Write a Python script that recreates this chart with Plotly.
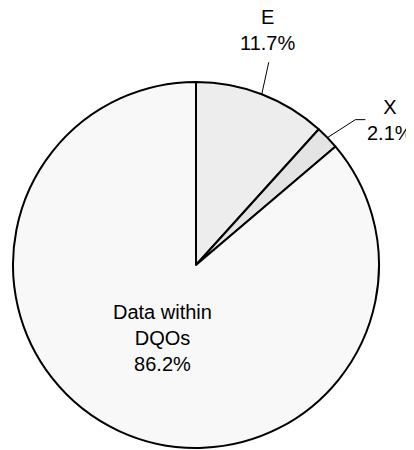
import math
import plotly.graph_objects as go

# Data
labels = ["E", "X", "Data within DQOs"]
label_text = ["E", "X", "Data within<br>DQOs"]
values = [11.7, 2.1, 86.2]
colors = ["#ededed", "#e4e4e4", "#f8f8f8"]

OFF = 8  # page body margin
W, H = 414 - OFF, 450 - OFF
CX, CY, R = 196, 265, 183  # pie geometry in window pixels

def px(x):
    return (x - OFF) / W

def py(y):
    return 1 - (y - OFF) / H

fig = go.Figure(go.Pie(
    labels=labels,
    values=values,
    sort=False,
    direction="clockwise",
    rotation=0,
    marker=dict(colors=colors, line=dict(color="black", width=2)),
    textinfo="none",
    hoverinfo="label+percent",
    showlegend=False,
    domain=dict(x=[px(CX - R), px(CX + R)], y=[max(0, py(CY + R)), py(CY - R)]),
))

total = sum(values)
cum = 0
mids = []
for v in values:
    mids.append((cum + v / 2) / total * 2 * math.pi)
    cum += v

def arc_point(theta, r=R):
    return CX + r * math.sin(theta), CY - r * math.cos(theta)

font = dict(family="Liberation Sans, Arial", size=20, color="black")
annotations = []
shapes = []

# E label (above, with leader line)
ex, ey = arc_point(mids[0])
e_top = (ex + 7, ey - 32)
shapes.append(dict(type="line", xref="paper", yref="paper",
                   x0=px(ex), y0=py(ey), x1=px(e_top[0]), y1=py(e_top[1]),
                   line=dict(color="black", width=1)))
annotations.append(dict(x=px(e_top[0] - 1), y=py(e_top[1] - 6), xref="paper", yref="paper",
                        text=f"{label_text[0]}<br>{values[0]:.1f}%", showarrow=False,
                        xanchor="center", yanchor="bottom", font=font, align="center"))

# X label (to the right, with bent leader line)
xx, xy = arc_point(mids[1])
bend = (xx + 28, xy - 18)
end = (bend[0] + 10, bend[1])
shapes.append(dict(type="path", xref="paper", yref="paper",
                   path=f"M {px(xx)},{py(xy)} L {px(bend[0])},{py(bend[1])} L {px(end[0])},{py(end[1])}",
                   line=dict(color="black", width=1)))
annotations.append(dict(x=px(end[0]), y=py(end[1]), xref="paper", yref="paper",
                        text=f"{label_text[1]}<br>{values[1]:.1f}%", showarrow=False,
                        xanchor="left", yanchor="middle", font=font, align="center"))

# Data label (inside)
dx, dy = arc_point(mids[2], 0.437 * R)
annotations.append(dict(x=px(dx), y=py(dy), xref="paper", yref="paper",
                        text=f"{label_text[2]}<br>{values[2]:.1f}%", showarrow=False,
                        xanchor="center", yanchor="middle", font=font, align="center"))

fig.update_layout(
    width=W, height=H,
    margin=dict(l=0, r=0, t=0, b=0),
    paper_bgcolor="white", plot_bgcolor="white",
    annotations=annotations, shapes=shapes,
)

fig.write_html("out.html")
